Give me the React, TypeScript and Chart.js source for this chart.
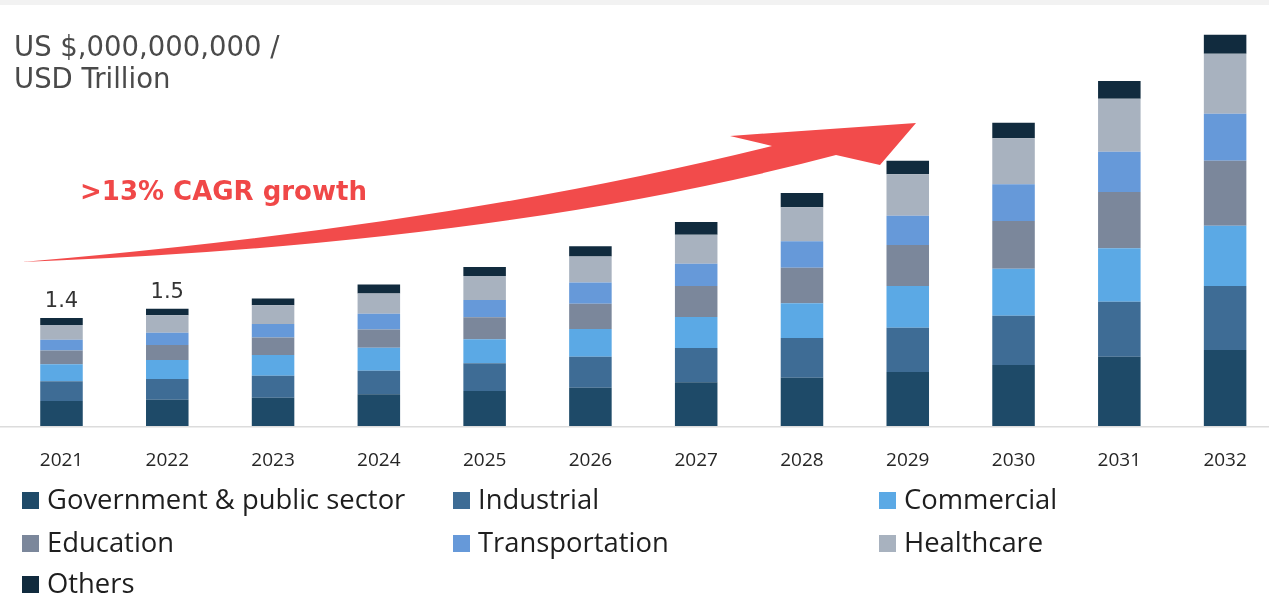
import React, { useEffect, useRef } from 'react';
import { Chart, registerables } from 'chart.js';

Chart.register(...registerables);

// ---- data (USD trillion) ----
const years = ['2021', '2022', '2023', '2024', '2025', '2026', '2027', '2028', '2029', '2030', '2031', '2032'];
const seriesNames = ['Government & public sector', 'Industrial', 'Commercial', 'Education', 'Transportation', 'Healthcare', 'Others'];
const government = [0.322, 0.339, 0.365, 0.408, 0.451, 0.494, 0.563, 0.622, 0.696, 0.786, 0.893, 0.979];
const industrial = [0.254, 0.267, 0.284, 0.304, 0.357, 0.400, 0.442, 0.512, 0.571, 0.635, 0.709, 0.825];
const commercial = [0.219, 0.245, 0.267, 0.296, 0.309, 0.357, 0.400, 0.447, 0.537, 0.606, 0.688, 0.777];
const education = [0.177, 0.193, 0.223, 0.237, 0.284, 0.326, 0.400, 0.459, 0.528, 0.615, 0.726, 0.838];
const transportation = [0.138, 0.159, 0.177, 0.201, 0.223, 0.271, 0.287, 0.340, 0.378, 0.473, 0.519, 0.606];
const healthcare = [0.193, 0.224, 0.241, 0.263, 0.309, 0.335, 0.374, 0.438, 0.534, 0.593, 0.683, 0.773];
const others = [0.090, 0.085, 0.085, 0.116, 0.116, 0.134, 0.164, 0.184, 0.175, 0.201, 0.228, 0.245];
const totalLabels = ['1.4', '1.5', '', '', '', '', '', '', '', '', '', ''];
const titleLines = ['US $,000,000,000 /', 'USD Trillion'];
const growthText = '>13% CAGR growth';

// ---- styles ----
const seriesColors = ['#1e4a68', '#3e6c95', '#5ba9e5', '#7b879b', '#6699d9', '#a8b2bf', '#112b3e'];
const seriesValues = [government, industrial, commercial, education, transportation, healthcare, others];
const LEGEND_COLS = [22, 453, 879];
const LEGEND_ROWS = [500, 543, 584];

const overlayPlugin = {
  id: 'overlay',
  afterDatasetsDraw(chart: any) {
    const ctx = chart.ctx;
    const y0 = chart.scales.y.getPixelForValue(0);
    ctx.save();
    ctx.strokeStyle = '#dcdcdc';
    ctx.lineWidth = 1.5;
    ctx.beginPath();
    ctx.moveTo(0, y0 + 0.75);
    ctx.lineTo(chart.width, y0 + 0.75);
    ctx.stroke();
    const meta = chart.getDatasetMeta(chart.data.datasets.length - 1);
    ctx.font = '21px "DejaVu Sans"';
    ctx.fillStyle = '#333333';
    ctx.textAlign = 'center';
    ctx.textBaseline = 'alphabetic';
    totalLabels.forEach((t, i) => {
      if (!t) return;
      const el = meta.data[i];
      ctx.fillText(t, el.x, el.y - 11);
    });
    ctx.restore();
  },
};

export default function App() {
  const ref = useRef<HTMLCanvasElement>(null);
  useEffect(() => {
    const chart = new Chart(ref.current as HTMLCanvasElement, {
      type: 'bar',
      data: {
        labels: years,
        datasets: seriesNames.map((name, i) => ({
          label: name,
          data: seriesValues[i],
          backgroundColor: seriesColors[i],
          borderWidth: 0,
          categoryPercentage: 1,
          barPercentage: 0.402,
        })),
      },
      options: {
        animation: false,
        responsive: false,
        layout: { padding: { left: 8.6, right: 0, top: 0, bottom: 0 } },
        plugins: { legend: { display: false }, tooltip: { enabled: false } },
        scales: {
          x: {
            stacked: true,
            grid: { display: false, drawTicks: false },
            border: { display: false },
            ticks: { color: '#262626', font: { family: '"Open Sans"', size: 19 }, padding: 23 },
            afterFit(scale: any) {
              scale.height = 186;
            },
          },
          y: {
            stacked: true,
            display: false,
            min: 0,
            max: 5.49,
          },
        },
      },
      plugins: [overlayPlugin],
    });
    return () => chart.destroy();
  }, []);

  return (
    <div style={{ position: 'fixed', left: 0, top: 0, width: 1269, height: 612, overflow: 'hidden', background: '#ffffff' }}>
      <canvas ref={ref} width={1278} height={612} style={{ position: 'absolute', left: 0, top: 0, width: 1278, height: 612 }} />
      <div style={{ position: 'absolute', left: 0, top: 0, width: '100%', height: 5, background: '#f2f2f2' }} />
      <div style={{ position: 'absolute', left: 14, top: 29.5, fontFamily: '"DejaVu Sans"', fontSize: 27.5, lineHeight: '32px', color: '#4a4a4a', whiteSpace: 'nowrap' }}>
        {titleLines.map((l) => (
          <div key={l}>{l}</div>
        ))}
      </div>
      <svg style={{ position: 'absolute', left: 0, top: 0 }} width={1269} height={612}>
        <path d="M 22 262 Q 450 226 772 146 L 730 136 L 916 123 L 880 165 L 836 155 Q 500 244 22 262 Z" fill="#f24b4b" />
      </svg>
      <div style={{ position: 'absolute', left: 80, top: 176, fontFamily: '"DejaVu Sans"', fontWeight: 'bold', fontSize: 26, lineHeight: '30px', color: '#f04848', whiteSpace: 'nowrap' }}>
        {growthText}
      </div>
      {seriesNames.map((name, i) => {
        const x = LEGEND_COLS[i % 3];
        const y = LEGEND_ROWS[Math.floor(i / 3)];
        return (
          <div key={name}>
            <div style={{ position: 'absolute', left: x, top: y - 8.5, width: 17, height: 17, background: seriesColors[i] }} />
            <div style={{ position: 'absolute', left: x + 25, top: y - 21, height: 40, lineHeight: '40px', fontFamily: '"Open Sans"', fontSize: 27.4, color: '#1e1e1e', whiteSpace: 'nowrap' }}>
              {name}
            </div>
          </div>
        );
      })}
    </div>
  );
}
